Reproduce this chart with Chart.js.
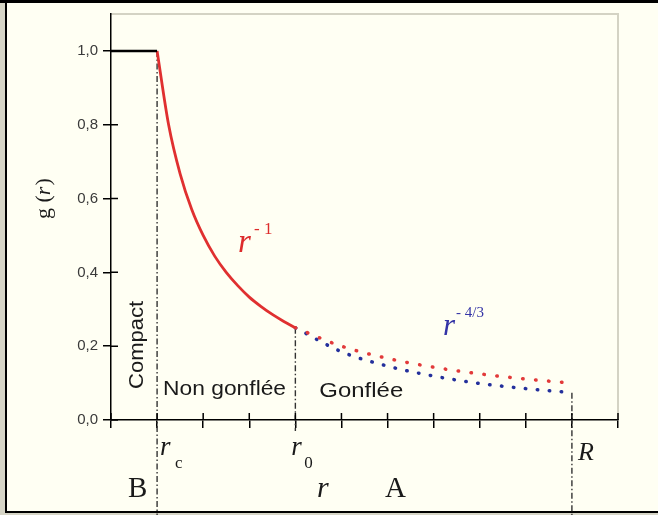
<!DOCTYPE html>
<html lang="fr">
<head>
  <meta charset="UTF-8">
  <title>g(r)</title>
  <style>
    html, body { margin: 0; padding: 0; background: #fffff3; }
    canvas { display: block; }
  </style>
</head>
<body>
  <canvas id="chart" width="658" height="515"></canvas>
  <script src="https://cdn.jsdelivr.net/npm/chart.js@4/dist/chart.umd.min.js"></script>
  <script>
    // valeurs (r en unités arbitraires, r_c = 1)
    const xFlat = [0, 1]
    const yFlat = [1.0, 1.0]

    const xR1 = [1, 1.25, 1.5, 1.75, 2, 2.25, 2.5, 2.75, 3, 3.25, 3.5, 3.75, 4]
    const yR1 = [1.0, 0.80, 0.667, 0.571, 0.50, 0.444, 0.40, 0.364, 0.333, 0.308, 0.286, 0.267, 0.25]

    const xOut = [4, 5, 6, 7, 8, 9, 10]
    const yR1Out = [0.25, 0.20, 0.167, 0.143, 0.125, 0.111, 0.10]
    const yR43 = [0.25, 0.185, 0.146, 0.119, 0.099, 0.085, 0.074]

    // limites : r_c, r_0, R
    const xMarks = [1, 4, 10]
    const yMarkTop = [1.0, 0.25, 0.074]
    const yMarkBottom = [-0.26, -0.03, -0.26]

    const yTicks = [0, 0.2, 0.4, 0.6, 0.8, 1.0]

    const pts = (xs, ys) => xs.map((x, i) => ({ x, y: ys[i] }))

    const markSets = xMarks.map((x, i) => ({
      data: [{ x, y: yMarkTop[i] }, { x, y: yMarkBottom[i] }],
      borderColor: '#333',
      borderWidth: 1.4,
      borderDash: [6, 2.5, 1.5, 2.5],
      pointRadius: 0,
      clip: false
    }))

    // cadre, ticks qui traversent l'axe, textes
    const decor = {
      id: 'decor',
      beforeDraw(chart) {
        const c = chart.ctx
        const a = chart.chartArea
        c.save()
        c.fillStyle = '#fffff3'
        c.fillRect(0, 0, chart.width, chart.height)
        c.fillStyle = '#d6d5c6'
        c.fillRect(0, 0, 5, chart.height)
        c.fillRect(0, 513, chart.width, 2)
        c.fillStyle = '#000'
        c.fillRect(0, 0, chart.width, 3)
        c.fillRect(5, 0, 2, 513)
        c.fillRect(5, 511, chart.width - 5, 2)
        c.strokeStyle = '#d4d3c4'
        c.lineWidth = 2
        c.beginPath()
        c.moveTo(a.left, a.top)
        c.lineTo(a.right, a.top)
        c.lineTo(a.right, a.bottom)
        c.stroke()
        c.restore()
      },
      afterDraw(chart) {
        const c = chart.ctx
        const a = chart.chartArea
        const xs = chart.scales.x
        const ys = chart.scales.y
        c.save()
        c.strokeStyle = '#000'
        c.lineWidth = 1.5
        c.beginPath()
        ys.ticks.forEach(t => {
          const py = ys.getPixelForValue(t.value)
          c.moveTo(a.left, py); c.lineTo(a.left + 7, py)
        })
        xs.ticks.forEach(t => {
          const px = xs.getPixelForValue(t.value)
          c.moveTo(px, a.bottom); c.lineTo(px, a.bottom - 7)
        })
        c.stroke()

        const txt = (s, x, y, font, color, sx) => {
          c.save()
          c.font = font
          c.fillStyle = color
          c.translate(x, y)
          c.scale(sx || 1, 1)
          c.fillText(s, 0, 0)
          c.restore()
        }
        const serif = '"Liberation Serif", "DejaVu Serif", serif'
        const sans = '"Liberation Sans", Arial, sans-serif'
        const ink = '#1a1a1a'

        // labels axe x
        const pc = xs.getPixelForValue(xMarks[0])
        const p0 = xs.getPixelForValue(xMarks[1])
        const pR = xs.getPixelForValue(xMarks[2])
        txt('r', pc + 3, 455, 'italic 27px ' + serif, ink)
        txt('c', pc + 18, 468, '17px ' + serif, ink)
        txt('r', p0 - 4, 455, 'italic 27px ' + serif, ink)
        txt('0', p0 + 9, 468, '17px ' + serif, ink)
        txt('R', pR + 6, 460, 'italic 26px ' + serif, ink)
        txt('B', 128, 497, '29px ' + serif, ink)
        txt('r', 317, 497, 'italic 30px ' + serif, ink)
        txt('A', 385, 497, '29px ' + serif, ink)

        // titre axe y
        c.save()
        c.translate(50, 219)
        c.rotate(-Math.PI / 2)
        txt('g (', 0, 0, '22px ' + serif, ink)
        c.font = '22px ' + serif
        const w1 = c.measureText('g (').width
        txt('r', w1, 0, 'italic 22px ' + serif, ink)
        c.font = 'italic 22px ' + serif
        const w2 = c.measureText('r').width
        txt(')', w1 + w2 + 1, 0, '22px ' + serif, ink)
        c.restore()

        // zones
        c.save()
        c.translate(143, 389)
        c.rotate(-Math.PI / 2)
        txt('Compact', 0, 0, '21px ' + sans, ink, 1.05)
        c.restore()
        txt('Non gonflée', pc + 6, 395, '20px ' + sans, ink, 1.14)
        txt('Gonflée', p0 + 24, 397, '21px ' + sans, ink, 1.14)

        // lois de puissance
        txt('r', 238, 252, 'italic 33px ' + serif, '#dd2c2c')
        txt('- 1', 254, 234, '17px ' + serif, '#dd2c2c')
        txt('r', 443, 335, 'italic 31px ' + serif, '#3434a6')
        txt('- 4/3', 456, 317, '15px ' + serif, '#3434a6')
        c.restore()
      }
    }

    const ctx = document.getElementById('chart').getContext('2d')
    new Chart(ctx, {
      type: 'line',
      data: {
        datasets: [
          {
            data: pts(xFlat, yFlat),
            borderColor: '#000',
            borderWidth: 2.5,
            pointRadius: 0
          },
          {
            data: pts(xR1, yR1),
            borderColor: '#e03030',
            borderWidth: 2.8,
            pointRadius: 0,
            cubicInterpolationMode: 'monotone'
          },
          {
            data: pts(xOut, yR1Out),
            borderColor: '#e23a3a',
            borderWidth: 3.5,
            borderDash: [0.5, 12.5],
            borderCapStyle: 'round',
            pointRadius: 0,
            cubicInterpolationMode: 'monotone'
          },
          {
            data: pts(xOut, yR43),
            borderColor: '#24309c',
            borderWidth: 3.5,
            borderDash: [0.5, 11.5],
            borderCapStyle: 'round',
            pointRadius: 0,
            cubicInterpolationMode: 'monotone'
          },
          ...markSets
        ]
      },
      options: {
        responsive: false,
        animation: false,
        devicePixelRatio: 1,
        layout: { padding: { left: 0, top: 11, right: 40, bottom: 0 } },
        plugins: { legend: { display: false }, tooltip: { enabled: false } },
        scales: {
          x: {
            type: 'linear',
            min: 0,
            max: 11,
            afterFit: s => { s.height = 95 },
            ticks: { stepSize: 1, autoSkip: false, callback: () => '' },
            grid: { drawOnChartArea: false, tickLength: 8, color: '#000', lineWidth: 1.5 },
            border: { color: '#000', width: 1.5 }
          },
          y: {
            min: 0,
            max: 1.1,
            afterFit: s => { s.width = 111 },
            afterBuildTicks: s => {
              s.ticks = yTicks.map(v => ({ value: v }))
            },
            ticks: {
              color: '#3a3a3a',
              padding: 5,
              font: { family: '"Liberation Sans", Arial, sans-serif', size: 15 },
              callback: v => v.toFixed(1).replace('.', ',')
            },
            grid: { drawOnChartArea: false, tickLength: 8, color: '#000', lineWidth: 1.5 },
            border: { color: '#000', width: 1.5 }
          }
        }
      },
      plugins: [decor]
    })
  </script>
</body>
</html>
